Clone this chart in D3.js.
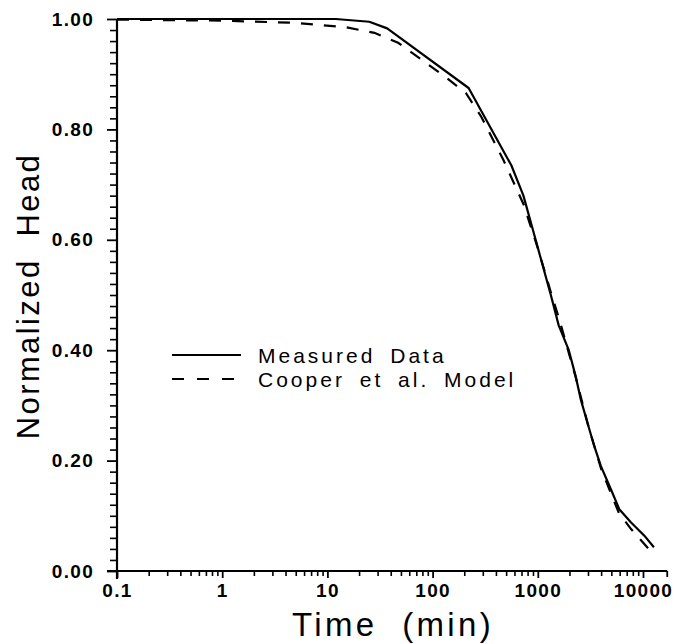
<!DOCTYPE html>
<html>
<head>
<meta charset="utf-8">
<script src="https://cdn.jsdelivr.net/npm/d3@7"></script>
<style>
  html, body { margin: 0; padding: 0; background: #fff; }
  svg { display: block; }
  text { font-family: "Liberation Sans", Arial, Helvetica, sans-serif; fill: #000; }
</style>
</head>
<body>
<svg id="chart" width="676" height="644"></svg>
<script>
// ---- data ----
const measuredTime = [0.1, 12, 25, 37, 220, 560, 730, 970, 1330, 1580, 1970, 2290, 2560, 2960, 3430, 3980, 4950, 5950, 7700, 10300, 12700];
const measuredHead = [1.0, 1.0, 0.995, 0.983, 0.875, 0.735, 0.68, 0.595, 0.5, 0.445, 0.4, 0.353, 0.311, 0.269, 0.227, 0.19, 0.148, 0.112, 0.088, 0.064, 0.043];

const modelTime = [0.1, 1, 5, 15, 28, 47, 79, 128, 207, 290, 470, 730, 1000, 1330, 1600, 2300, 3000, 4000, 5900, 7700, 11300, 12700];
const modelHead = [0.999, 0.997, 0.993, 0.985, 0.975, 0.957, 0.926, 0.897, 0.866, 0.823, 0.745, 0.665, 0.585, 0.505, 0.456, 0.35, 0.265, 0.185, 0.105, 0.076, 0.04, 0.035];

const xTickValues = [0.1, 1, 10, 100, 1000, 10000];
const xTickLabels = ["0.1", "1", "10", "100", "1000", "10000"];
const yTickValues = [0, 0.2, 0.4, 0.6, 0.8, 1.0];
const yTickLabels = ["0.00", "0.20", "0.40", "0.60", "0.80", "1.00"];

const seriesNames = ["Measured Data", "Cooper et al. Model"];
const xTitle = "Time\u00a0\u00a0(min)";
const yTitle = "Normalized\u00a0\u00a0Head";

// ---- layout ----
const svg = d3.select("#chart");
const x = d3.scaleLog().domain([0.1, 10000]).range([117, 643]);
const y = d3.scaleLinear().domain([0, 1]).range([571, 19]);
const xEnd = 17000;

// minor tick positions
const xMinor = [];
for (let e = -1; e <= 3; e++) for (let k = 2; k <= 9; k++) xMinor.push(k * Math.pow(10, e));
const yMinor = d3.range(0, 51).map(i => i / 50).filter(v => Math.abs(v * 5 - Math.round(v * 5)) > 1e-6);

const axisG = svg.append("g");

// x minor ticks
const xMinorAxis = d3.axisBottom(x).tickValues(xMinor).tickSize(5).tickFormat("");
axisG.append("g").attr("transform", `translate(0,${y(0)})`).call(xMinorAxis)
  .call(g => g.select(".domain").remove())
  .call(g => g.selectAll("line").attr("stroke", "#000").attr("stroke-width", 1.6));

// x major ticks
const xMajorAxis = d3.axisBottom(x).tickValues(xTickValues).tickSize(7).tickPadding(6)
  .tickFormat((d, i) => xTickLabels[i]);
axisG.append("g").attr("transform", `translate(0,${y(0)})`).call(xMajorAxis)
  .call(g => g.select(".domain").remove())
  .call(g => g.selectAll("line").attr("stroke", "#000").attr("stroke-width", 1.8))
  .call(g => g.selectAll("text")
    .attr("font-size", 19).attr("font-weight", "bold").attr("letter-spacing", "1.3px")
    .attr("fill", "#000"));

// y minor ticks
const yMinorAxis = d3.axisLeft(y).tickValues(yMinor).tickSize(7).tickFormat("");
axisG.append("g").attr("transform", `translate(${x(0.1)},0)`).call(yMinorAxis)
  .call(g => g.select(".domain").remove())
  .call(g => g.selectAll("line").attr("stroke", "#000").attr("stroke-width", 1.6));

// y major ticks
const yMajorAxis = d3.axisLeft(y).tickValues(yTickValues).tickSize(10).tickPadding(13)
  .tickFormat((d, i) => yTickLabels[i]);
axisG.append("g").attr("transform", `translate(${x(0.1)},0)`).call(yMajorAxis)
  .call(g => g.select(".domain").remove())
  .call(g => g.selectAll("line").attr("stroke", "#000").attr("stroke-width", 1.8))
  .call(g => g.selectAll("text")
    .attr("font-size", 19).attr("font-weight", "bold").attr("letter-spacing", "1.3px")
    .attr("fill", "#000"));

// axis lines
axisG.append("line")
  .attr("x1", x(0.1) - 10).attr("x2", x(xEnd))
  .attr("y1", y(0)).attr("y2", y(0))
  .attr("stroke", "#000").attr("stroke-width", 2.2);
axisG.append("line")
  .attr("x1", x(xEnd)).attr("x2", x(xEnd))
  .attr("y1", y(0)).attr("y2", y(0) + 6)
  .attr("stroke", "#000").attr("stroke-width", 1.8);
axisG.append("line")
  .attr("x1", x(0.1)).attr("x2", x(0.1))
  .attr("y1", y(1)).attr("y2", y(0) + 8)
  .attr("stroke", "#000").attr("stroke-width", 2.2);

// ---- curves ----
const line = d3.line().x(d => x(d[0])).y(d => y(d[1]));
const measured = measuredTime.map((t, i) => [t, measuredHead[i]]);
const model = modelTime.map((t, i) => [t, modelHead[i]]);

svg.append("path").datum(model)
  .attr("d", line).attr("fill", "none").attr("stroke", "#000")
  .attr("stroke-width", 2.2).attr("stroke-dasharray", "12,11");
svg.append("path").datum(measured)
  .attr("d", line).attr("fill", "none").attr("stroke", "#000")
  .attr("stroke-width", 2.2).attr("stroke-linejoin", "round");

// ---- legend ----
const leg = svg.append("g");
const legRows = [{ y: 355, dash: null }, { y: 379, dash: "12,13" }];
legRows.forEach((r, i) => {
  leg.append("line").attr("x1", 172).attr("x2", 241).attr("y1", r.y).attr("y2", r.y)
    .attr("stroke", "#000").attr("stroke-width", 2)
    .attr("stroke-dasharray", r.dash);
  leg.append("text").attr("x", 258).attr("y", r.y + 8)
    .attr("font-size", 21).attr("letter-spacing", "3px").attr("word-spacing", "6px")
    .text(seriesNames[i]);
});

// ---- titles ----
svg.append("text").attr("x", 393).attr("y", 636).attr("text-anchor", "middle")
  .attr("font-size", 33).attr("letter-spacing", "3.3px").text(xTitle);
svg.append("text").attr("transform", "translate(39,296) rotate(-90)").attr("text-anchor", "middle")
  .attr("font-size", 31).attr("letter-spacing", "2.4px").text(yTitle);
</script>
</body>
</html>
